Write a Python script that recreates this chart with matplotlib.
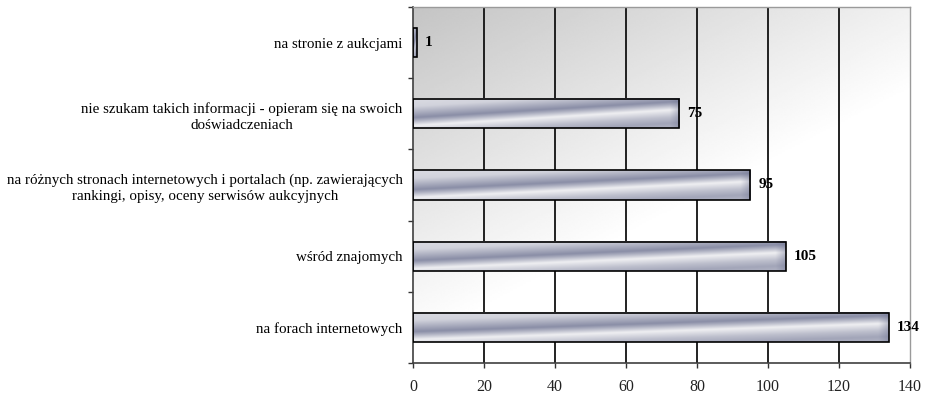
import matplotlib
matplotlib.use("Agg")
import matplotlib.pyplot as plt
import numpy as np
from matplotlib.colors import LinearSegmentedColormap

plt.rcParams["font.family"] = ["Liberation Serif", "DejaVu Serif"]

# --- dane ---
categories = [
    "na stronie z aukcjami",
    "nie szukam takich informacji - opieram się na swoich\ndoświadczeniach",
    "na różnych stronach internetowych i portalach (np. zawierających\nrankingi, opisy, oceny serwisów aukcyjnych",
    "wśród znajomych",
    "na forach internetowych",
]
values = [1, 75, 95, 105, 134]
x_ticks = [0, 20, 40, 60, 80, 100, 120, 140]

fig = plt.figure(figsize=(9.26, 3.94), dpi=100)
ax = fig.add_axes([413 / 926, 1 - 363 / 394, (910 - 413) / 926, (363 - 7) / 394])

xmax = 140
n = len(categories)
ypos = np.arange(n)
ax.set_xlim(0, xmax)
ax.set_ylim(n - 0.5, -0.5)

# tło obszaru wykresu: gradient szary -> biały po przekątnej
gx, gy = np.meshgrid(np.linspace(0, 1, 300), np.linspace(0, 1, 200))
t = np.clip(0.75 * gx + 1.05 * gy, 0, 1)
bg = 0.77 + 0.23 * t
ax.imshow(bg, cmap="gray", vmin=0, vmax=1, extent=[0, xmax, n - 0.5, -0.5],
          aspect="auto", zorder=0, interpolation="bilinear")

# linie siatki
for xv in x_ticks[1:-1]:
    ax.axvline(xv, color="#111111", lw=1.3, zorder=1)

# metaliczne wypełnienie słupków: ukośny refleks od lewego dołu do prawej góry
metal = LinearSegmentedColormap.from_list("metal", ["#6c7190", "#f3f3f5"])
s_pts = [-0.4, 0.0, 0.38, 0.47, 0.65, 0.9, 1.1, 1.4]
v_pts = [0.85, 0.75, 0.22, 0.45, 0.97, 0.6, 0.4, 0.6]
bar_h = 0.41
px_per_unit = (910 - 413) / xmax
for y, v in zip(ypos, values):
    xr, yr = np.meshgrid(np.linspace(0, 1, 400), np.linspace(0, 1, 60))
    s = yr + 0.55 * (xr - 0.5)
    prof = np.interp(s, s_pts, v_pts)
    # przyciemnienie prawego końca słupka (ok. 10 px)
    end_px = (1 - xr) * v * px_per_unit
    ends = 1 - 0.4 * np.clip(1 - end_px / 10, 0, 1)
    img = np.clip(prof * ends, 0, 1)
    ax.imshow(img, cmap=metal, vmin=0, vmax=1, aspect="auto",
              extent=[0, v, y + bar_h / 2, y - bar_h / 2],
              zorder=2, interpolation="bilinear")
ax.barh(ypos, values, height=bar_h, fill=False, edgecolor="black", lw=1.2, zorder=3)
ax.set_xlim(0, xmax)
ax.set_ylim(n - 0.5, -0.5)

for y, v in zip(ypos, values):
    ax.annotate(str(v), xy=(v, y), xytext=(6, 0), textcoords="offset points",
                ha="left", va="center", fontsize=11, fontweight="bold", zorder=4)

# osie
ax.set_xticks(x_ticks)
ax.set_xticklabels([str(v) for v in x_ticks], fontsize=11.5, color="#222222")
ax.set_yticks(ypos)
ax.set_yticklabels(categories, fontsize=10.8, multialignment="center", linespacing=1.35)
ax.set_yticks(np.arange(n + 1) - 0.5, minor=True)
ax.tick_params(axis="y", which="major", length=0, pad=7.5)
ax.tick_params(axis="y", which="minor", length=3.5, width=1, color="#333333", direction="out")
ax.tick_params(axis="x", length=3.5, width=1, color="#333333", direction="out", pad=8)

for side in ("left", "bottom"):
    ax.spines[side].set_color("#404040")
    ax.spines[side].set_linewidth(1.2)
for side in ("top", "right"):
    ax.spines[side].set_color("#9a9a9a")
    ax.spines[side].set_linewidth(1.0)

fig.savefig("out.png", dpi=100)
